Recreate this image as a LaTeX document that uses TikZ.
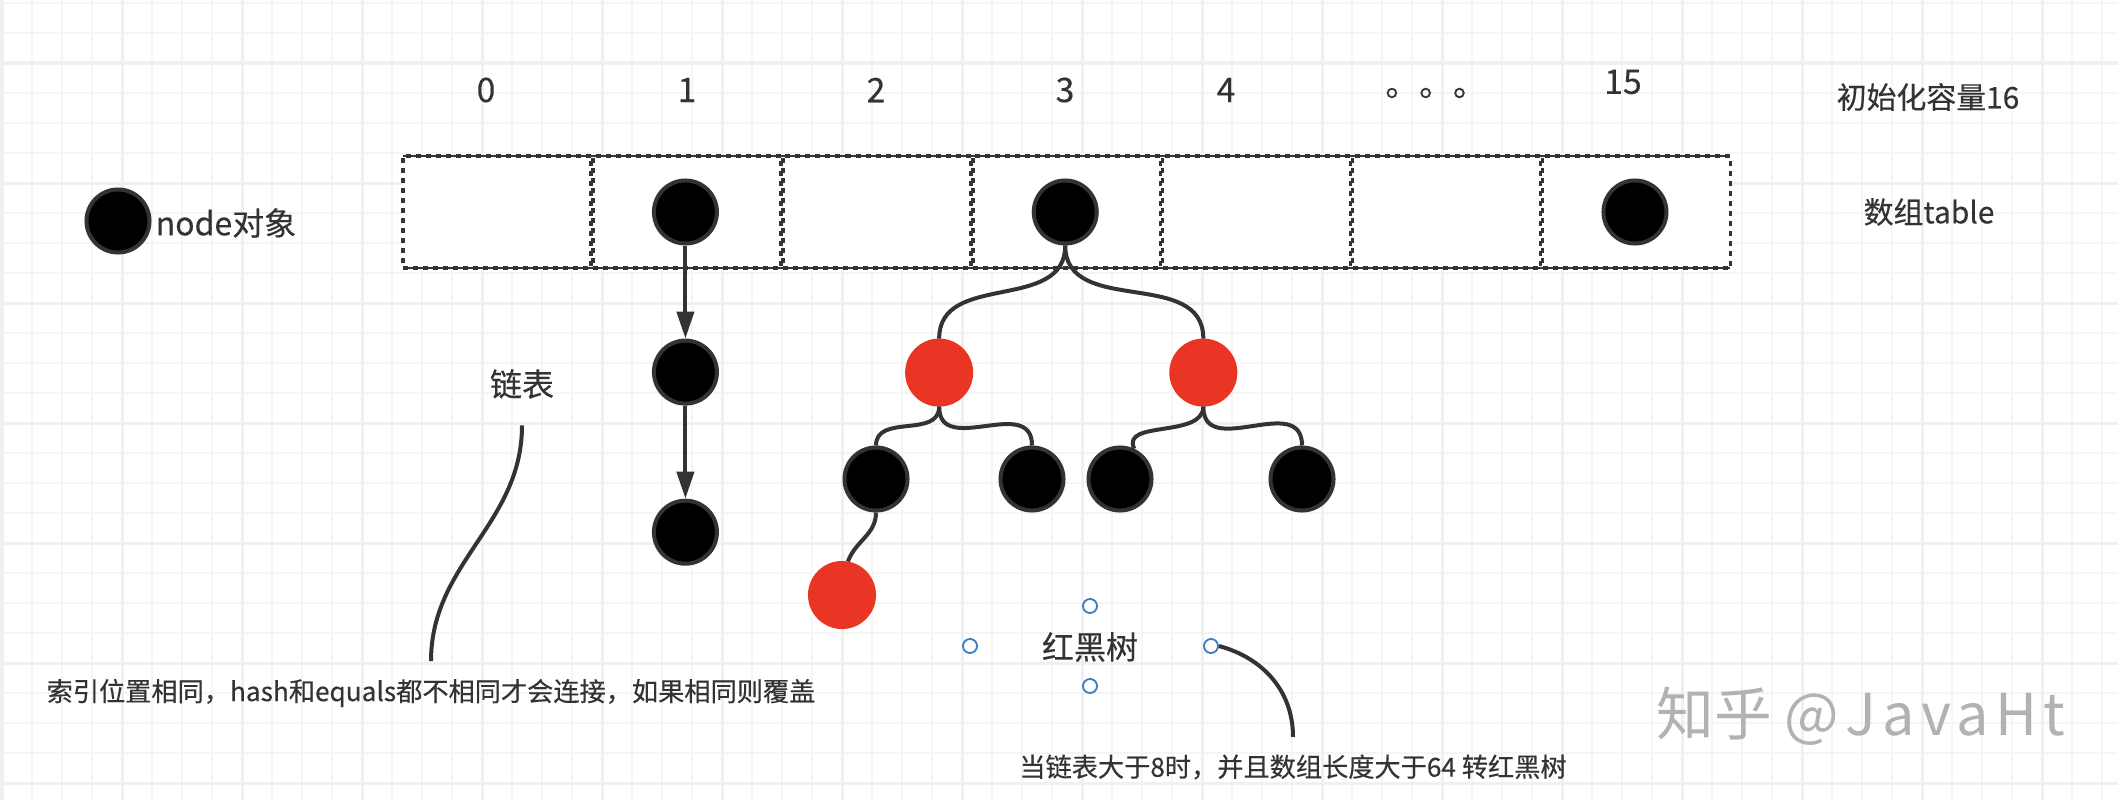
\documentclass[tikz,border=0pt]{standalone}
\usepackage{fontspec}
\setmainfont{Noto Sans CJK SC}
\newfontface\heavyface[FakeBold=0.35]{Noto Sans CJK SC}
\usepackage{xcolor}
\usepackage{tikz}
\usetikzlibrary{arrows.meta, positioning}
\definecolor{inkgray}{HTML}{333333}
\definecolor{treered}{HTML}{EA3424}
\definecolor{handleblue}{HTML}{3B7BBF}

\begin{document}
\begin{tikzpicture}[
    x=0.01cm, y=-0.01cm,
    node distance=0.02cm,
    gridminor/.style={draw=black!4, line width=0.02cm},
    gridmajor/.style={draw=black!6, line width=0.03cm},
    cell/.style={rectangle, draw=inkgray, fill=white, line width=0.035cm, dash pattern=on 0.05cm off 0.05cm, outer sep=0pt, minimum width=1.878cm, minimum height=1.12cm},
    rim/.style={draw=inkgray, line width=0.018cm},
    dot/.style={circle, draw=inkgray, fill=black, line width=0.04cm, minimum size=0.63cm, inner sep=0pt},
    reddot/.style={circle, fill=treered, minimum size=0.68cm, inner sep=0pt, outer sep=0pt},
    handle/.style={circle, draw=handleblue, fill=white, line width=0.018cm, minimum size=0.14cm, inner sep=0pt},
    link/.style={draw=inkgray, line width=0.04cm},
    arrow/.style={-{Stealth[inset=0pt, length=2.7mm, width=1.7mm]}, link},
    idx/.style={font=\heavyface\fontsize{9.6}{11}\selectfont, text=inkgray},
    label/.style={font=\heavyface\fontsize{8.5}{10}\selectfont, text=inkgray},
    biglabel/.style={font=\heavyface\fontsize{9.1}{11}\selectfont, text=inkgray},
    note/.style={font=\heavyface\fontsize{7.45}{9}\selectfont, text=inkgray, inner sep=0.17cm}
]
\useasboundingbox (0,0) rectangle (2118,800);

% Paper grid
\foreach \gx in {2,32,...,2118} \draw[gridminor] (\gx,0) -- (\gx,800);
\foreach \gy in {3,33,...,800} \draw[gridminor] (0,\gy) -- (2118,\gy);
\foreach \gx in {2,122,...,2118} \draw[gridmajor] (\gx,0) -- (\gx,800);
\foreach \gy in {63,183,...,800} \draw[gridmajor] (0,\gy) -- (2118,\gy);

% Array cells
\node[cell] (c0) at (497,212) {};
\node[cell, right=of c0] (c1) {};
\node[cell, right=of c1] (c2) {};
\node[cell, right=of c2] (c3) {};
\node[cell, right=of c3] (c4) {};
\node[cell, right=of c4] (c5) {};
\node[cell, right=of c5] (c6) {};
\draw[rim] (c0.north west) -- (c6.north east);
\draw[rim] (c0.south west) -- (c6.south east);

% Indices
\node[idx] (i0) at (486,90) {0};
\node[idx] (i1) at (687,90) {1};
\node[idx] (i2) at (876,90) {2};
\node[idx] (i3) at (1065,90) {3};
\node[idx] (i4) at (1226,90) {4};
\node[idx] (i5) at (1436,93) {。。。};
\node[idx] (i6) at (1623,82) {15};

% Labels on the right
\node[label] (capacity) at (1928,97) {初始化容量16};
\node[label] (tablename) at (1929,212) {数组table};

% Legend
\node[dot] (legend) at (118,221) {};
\node[biglabel, anchor=west, inner sep=0pt] (legendtext) at (155,223) {node对象};

% Nodes in the array
\node[dot] (a1) at ([xshift=-0.015cm]c1.center) {};
\node[dot] (a3) at ([xshift=-0.015cm]c3.center) {};
\node[dot] (a6) at ([xshift=-0.015cm]c6.center) {};

% Linked list
\node[dot, below=0.93cm of a1] (l1) {};
\node[dot, below=0.93cm of l1] (l2) {};

% Tree
\node[reddot, below=0.93cm of a3, xshift=-1.26cm] (r1) {};
\node[reddot, below=0.93cm of a3, xshift=1.38cm] (r2) {};
\node[dot] (b1) at (876,479) {};
\node[dot] (b2) at (1032,479) {};
\node[dot] (b3) at (1120,479) {};
\node[dot] (b4) at (1302,479) {};
\node[reddot] (r3) at (842,595) {};

% Arrows - list
\draw[arrow] (a1) -- (l1);
\draw[arrow] (l1) -- (l2);

% Curves - tree
\draw[link] (a3.south) to[out=-90, in=90, looseness=1.1] (r1.north);
\draw[link] (a3.south) to[out=-90, in=90, looseness=1.1] (r2.north);
\draw[link] (r1.south) to[out=-90, in=90, looseness=1.1] (b1.north);
\draw[link] (r1.south) to[out=-90, in=90, looseness=1.3] (b2.north);
\draw[link] (r2.south) to[out=-90, in=115] (b3.65);
\draw[link] (r2.south) to[out=-90, in=90, looseness=1.3] (b4.north);
\draw[link] (b1.south) to[out=-90, in=70] (r3.80);

% Text with its lines
\node[biglabel, inner sep=0.26cm] (listname) at (522,384) {链表};
\node[note] (indexnote) at (431,693) {索引位置相同，hash和equals都不相同才会连接，如果相同则覆盖};
\draw[link] (listname.south) to[out=-90, in=90] (indexnote.north);

\node[biglabel] (treename) at (1090,647) {红黑树};
\node[handle] (hleft) at (970,646) {};
\node[handle] (hright) at (1211,646) {};
\node[handle] (htop) at (1090,606) {};
\node[handle] (hbottom) at (1090,686) {};
\node[note] (treenote) at (1293,767) {当链表大于8时，并且数组长度大于64 转红黑树};
\draw[link] (hright.east) to[out=-15, in=90] (treenote.north);

% Watermark
\node[font=\fontsize{16.4}{18}\selectfont, text=black!30] (mark) at (1861,716) {知乎 \addfontfeature{LetterSpace=11}@JavaHt};

\end{tikzpicture}
\end{document}
